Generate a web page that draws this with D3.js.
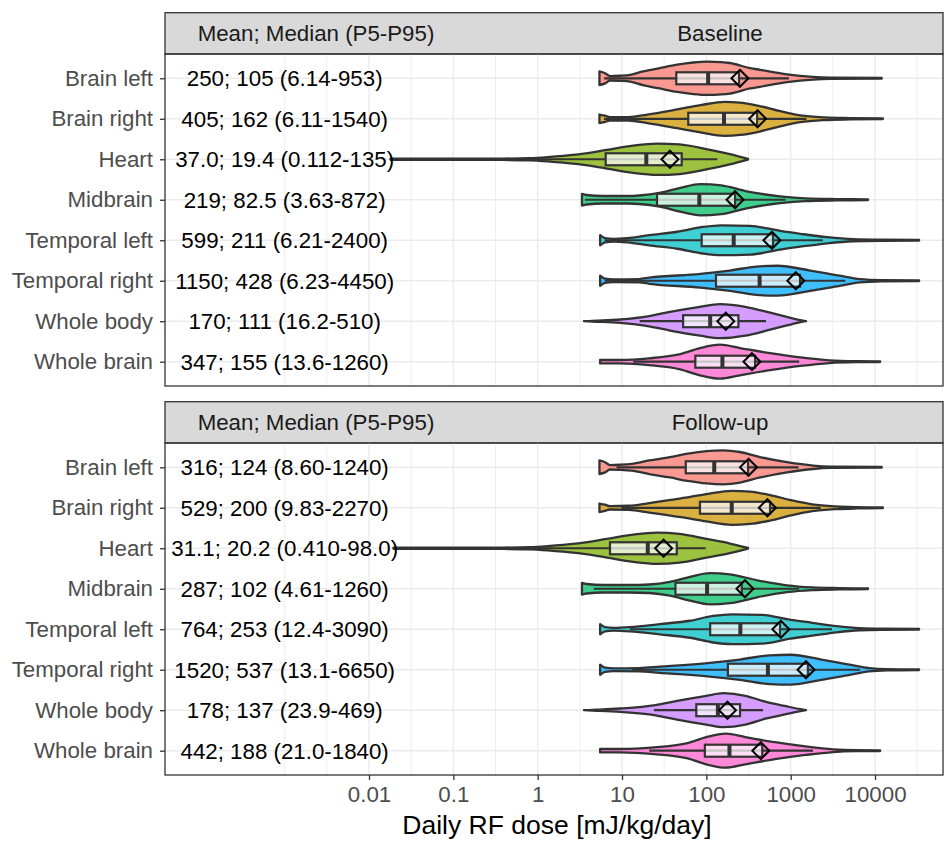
<!DOCTYPE html>
<html>
<head>
<meta charset="utf-8">
<script src="https://cdn.jsdelivr.net/npm/d3@7"></script>
<style>
  body { margin: 0; background: #fff; }
  svg { font-family: "Liberation Sans", Arial, sans-serif; }
</style>
</head>
<body>
<div id="chart"></div>
<script>
// categories
const organs = ["Brain left", "Brain right", "Heart", "Midbrain", "Temporal left", "Temporal right", "Whole body", "Whole brain"];
const phases = ["Baseline", "Follow-up"];
const colors = ["#F8766D", "#CD9600", "#7CAE00", "#00BE67", "#00BFC4", "#00A9FF", "#C77CFF", "#FF61CC"];

// summary values, baseline
const meanBase = [250, 405, 37.0, 219, 599, 1150, 170, 347];
const medianBase = [105, 162, 19.4, 82.5, 211, 428, 111, 155];
const p5Base = [6.14, 6.11, 0.112, 3.63, 6.21, 6.23, 16.2, 13.6];
const p95Base = [953, 1540, 135, 872, 2400, 4450, 510, 1260];
const p25Base = [44, 61, 6.4, 26, 88, 130, 53, 74];
const p75Base = [244, 400, 51, 219, 617, 1290, 240, 378];

// summary values, follow-up
const meanFollow = [316, 529, 31.1, 287, 764, 1520, 178, 442];
const medianFollow = [124, 200, 20.2, 102, 253, 537, 137, 188];
const p5Follow = [8.60, 9.83, 0.410, 4.61, 12.4, 13.1, 23.9, 21.0];
const p95Follow = [1240, 2270, 98.0, 1260, 3090, 6650, 469, 1840];
const p25Follow = [57, 84, 7.2, 43, 111, 180, 76, 96];
const p75Follow = [312, 569, 44.6, 263, 747, 1600, 251, 460];

// violin outlines: [dose, relative half width]
const violinBase = [
  [[5.4,0.4],[6.3,0.3],[7.2,0.13],[9.5,0.15],[12.5,0.2],[17.7,0.4],[28,0.6],[45,0.8],[70,0.93],[102,0.98],[150,0.95],[190,0.9],[330,0.6],[433,0.5],[905,0.23],[1840,0.08],[3000,0.04],[12000,0.02]],
  [[5.4,0.25],[6.3,0.18],[7.2,0.1],[12,0.1],[20,0.25],[45,0.55],[85,0.8],[165,1.0],[250,0.95],[430,0.75],[750,0.45],[1300,0.2],[2500,0.08],[5000,0.04],[12400,0.02]],
  [[0.018,0.03],[0.09,0.03],[0.36,0.04],[0.8,0.06],[1.5,0.15],[3.2,0.3],[6.6,0.55],[13.5,0.8],[26,0.92],[48,0.87],[100,0.6],[190,0.3],[312,0.02]],
  [[3.35,0.35],[3.8,0.28],[6,0.22],[12,0.22],[16,0.25],[28,0.4],[49,0.7],[85,0.92],[150,0.85],[300,0.5],[750,0.2],[1500,0.08],[3500,0.04],[8260,0.02]],
  [[5.5,0.3],[6.3,0.12],[8,0.08],[11.5,0.12],[21,0.3],[45,0.5],[90,0.78],[150,0.88],[330,0.85],[750,0.55],[1300,0.38],[2700,0.18],[5500,0.06],[12000,0.03],[33300,0.02]],
  [[5.5,0.3],[6.3,0.12],[8,0.08],[16,0.1],[21,0.18],[85,0.4],[190,0.6],[430,0.85],[700,0.88],[1700,0.6],[3800,0.3],[6600,0.1],[12000,0.04],[33300,0.02]],
  [[3.54,0.0],[5,0.03],[9.5,0.1],[21,0.3],[37,0.55],[84,0.85],[145,1.0],[290,0.85],[570,0.5],[900,0.25],[1300,0.06],[1520,0.0]],
  [[5.5,0.1],[9.5,0.1],[21,0.2],[49,0.45],[84,0.8],[145,1.0],[250,0.8],[570,0.5],[1300,0.25],[2900,0.08],[6000,0.03],[11500,0.02]]
];
const violinFollow = [
  [[5.4,0.4],[6.3,0.3],[7.2,0.13],[9.5,0.15],[13,0.2],[21,0.4],[37,0.6],[60,0.8],[100,0.95],[160,1.0],[250,0.9],[433,0.6],[905,0.3],[1840,0.1],[3000,0.04],[12000,0.02]],
  [[5.4,0.25],[6.3,0.18],[7.2,0.1],[12,0.12],[21,0.28],[50,0.55],[100,0.8],[200,1.0],[330,0.95],[570,0.75],[1000,0.45],[1800,0.2],[3500,0.08],[6000,0.04],[12400,0.02]],
  [[0.0195,0.03],[0.09,0.03],[0.36,0.04],[0.8,0.06],[1.5,0.15],[3.2,0.3],[6.6,0.55],[13.5,0.8],[26,0.92],[48,0.85],[100,0.55],[190,0.28],[312,0.02]],
  [[3.35,0.35],[3.8,0.28],[6,0.22],[12,0.22],[21,0.25],[37,0.4],[64,0.7],[110,0.92],[190,0.85],[400,0.5],[900,0.2],[1800,0.08],[3800,0.04],[8260,0.02]],
  [[5.5,0.3],[6.3,0.12],[8,0.08],[12.4,0.12],[28,0.3],[64,0.5],[120,0.78],[200,0.88],[450,0.85],[1000,0.55],[1800,0.38],[3500,0.18],[6600,0.06],[12000,0.03],[33300,0.02]],
  [[5.5,0.3],[6.3,0.12],[8,0.08],[16,0.1],[28,0.18],[110,0.4],[250,0.6],[570,0.85],[1000,0.88],[2300,0.6],[5000,0.3],[8500,0.1],[14000,0.04],[33300,0.02]],
  [[3.54,0.0],[5,0.03],[9.5,0.1],[25,0.3],[45,0.55],[100,0.85],[160,1.0],[290,0.85],[500,0.5],[850,0.25],[1300,0.06],[1520,0.0]],
  [[5.5,0.1],[9.5,0.1],[24,0.2],[60,0.45],[100,0.8],[170,1.0],[290,0.8],[650,0.5],[1500,0.25],[3200,0.08],[6000,0.03],[11500,0.02]]
];

const xTicks = [0.01, 0.1, 1, 10, 100, 1000, 10000];
const labelAt = 0.001; // dose where the summary text is centred

const width = 944, height = 841;
const left = 165, right = 943;
const panels = [
  { stripTop: 12.7, top: 54, bottom: 386 },
  { stripTop: 401.7, top: 443, bottom: 775 }
];
const summary = [
  { mean: meanBase, median: medianBase, p5: p5Base, p95: p95Base, p25: p25Base, p75: p75Base, violin: violinBase },
  { mean: meanFollow, median: medianFollow, p5: p5Follow, p95: p95Follow, p25: p25Follow, p75: p75Follow, violin: violinFollow }
];

const svg = d3.select("#chart").append("svg")
  .attr("width", width)
  .attr("height", height);

const x = d3.scaleLog()
  .domain([Math.pow(10, -4.419), Math.pow(10, 4.806)])
  .range([left, right]);

// minor breaks half a decade between majors (ggplot style)
const minorBreaks = [];
for (let k = -3; k <= 4; k++) minorBreaks.push(Math.pow(10, k + 0.5));
minorBreaks.push(0.001);

const fmt = d3.format(".3r");
const halfMax = 17, boxHalf = 6;
const fs = 22.3;

panels.forEach((p, pi) => {
  const s = summary[pi];
  const y = d3.scalePoint().domain(organs).range([p.top, p.bottom]).padding(0.6);

  // strip
  svg.append("rect")
    .attr("x", left).attr("y", p.stripTop)
    .attr("width", right - left).attr("height", p.top - p.stripTop)
    .attr("fill", "#D9D9D9").attr("stroke", "#333").attr("stroke-width", 1.3);
  const stripMid = (p.stripTop + p.top) / 2;
  svg.append("text").attr("x", 316).attr("y", stripMid).attr("dy", "0.36em")
    .attr("text-anchor", "middle").attr("font-size", fs).attr("fill", "#1A1A1A")
    .text("Mean; Median (P5-P95)");
  svg.append("text").attr("x", 720).attr("y", stripMid).attr("dy", "0.36em")
    .attr("text-anchor", "middle").attr("font-size", fs).attr("fill", "#1A1A1A")
    .text(phases[pi]);

  const g = svg.append("g");
  // grid
  g.selectAll(".minor").data(minorBreaks).enter().append("line")
    .attr("x1", d => x(d)).attr("x2", d => x(d))
    .attr("y1", p.top).attr("y2", p.bottom)
    .attr("stroke", "#EBEBEB").attr("stroke-width", 0.8);
  g.selectAll(".hgrid").data(organs).enter().append("line")
    .attr("x1", left).attr("x2", right)
    .attr("y1", d => y(d)).attr("y2", d => y(d))
    .attr("stroke", "#EBEBEB").attr("stroke-width", 1.4);
  g.selectAll(".major").data(xTicks).enter().append("line")
    .attr("x1", d => x(d)).attr("x2", d => x(d))
    .attr("y1", p.top).attr("y2", p.bottom)
    .attr("stroke", "#EBEBEB").attr("stroke-width", 1.4);

  // violins and boxes
  organs.forEach((o, i) => {
    const yc = y(o);
    const area = d3.area()
      .x(d => x(d[0]))
      .y0(d => yc - d[1] * halfMax)
      .y1(d => yc + d[1] * halfMax)
      .curve(d3.curveMonotoneX);
    g.append("path")
      .attr("d", area(s.violin[i]))
      .attr("fill", colors[i]).attr("fill-opacity", 0.75)
      .attr("stroke", "#333").attr("stroke-width", 2.3).attr("stroke-linejoin", "round");

    g.append("line")
      .attr("x1", x(s.p5[i])).attr("x2", x(s.p95[i]))
      .attr("y1", yc).attr("y2", yc)
      .attr("stroke", "#333").attr("stroke-width", 2.2);
    g.append("rect")
      .attr("x", x(s.p25[i])).attr("y", yc - boxHalf)
      .attr("width", x(s.p75[i]) - x(s.p25[i])).attr("height", boxHalf * 2)
      .attr("fill", "#fff").attr("fill-opacity", 0.72)
      .attr("stroke", "#333").attr("stroke-width", 2.2);
    g.append("line")
      .attr("x1", x(s.median[i])).attr("x2", x(s.median[i]))
      .attr("y1", yc - boxHalf).attr("y2", yc + boxHalf)
      .attr("stroke", "#333").attr("stroke-width", 4);
    const mx = x(s.mean[i]), r = 8.5;
    g.append("path")
      .attr("d", `M${mx},${yc - r}L${mx + r},${yc}L${mx},${yc + r}L${mx - r},${yc}Z`)
      .attr("fill", "none").attr("stroke", "#000").attr("stroke-width", 2);

    g.append("text")
      .attr("x", x(labelAt)).attr("y", yc).attr("dy", "0.36em")
      .attr("text-anchor", "middle").attr("font-size", fs).attr("fill", "#000")
      .text(`${fmt(s.mean[i])}; ${fmt(s.median[i])} (${fmt(s.p5[i])}-${fmt(s.p95[i])})`);
  });

  // panel border
  svg.append("rect")
    .attr("x", left).attr("y", p.top)
    .attr("width", right - left).attr("height", p.bottom - p.top)
    .attr("fill", "none").attr("stroke", "#333").attr("stroke-width", 1.3);

  // y axis
  const yAxis = svg.append("g")
    .attr("transform", `translate(${left},0)`)
    .call(d3.axisLeft(y).tickSize(5).tickPadding(7));
  yAxis.select(".domain").remove();
  yAxis.selectAll(".tick line").attr("stroke", "#333").attr("stroke-width", 1.3);
  yAxis.selectAll(".tick text").attr("font-size", fs).attr("fill", "#4D4D4D")
    .attr("font-family", "'Liberation Sans', Arial, sans-serif");

  if (pi === 1) {
    const xAxis = svg.append("g")
      .attr("transform", `translate(0,${p.bottom})`)
      .call(d3.axisBottom(x).tickValues(xTicks).tickFormat(d => d3.format("~f")(d)).tickSize(5).tickPadding(6));
    xAxis.select(".domain").remove();
    xAxis.selectAll(".tick line").attr("stroke", "#333").attr("stroke-width", 1.3);
    xAxis.selectAll(".tick text").attr("font-size", fs).attr("fill", "#4D4D4D")
      .attr("font-family", "'Liberation Sans', Arial, sans-serif");
  }
});

svg.append("text")
  .attr("x", (left + right) / 2 + 3).attr("y", 834)
  .attr("text-anchor", "middle").attr("font-size", 26.5).attr("fill", "#000")
  .text("Daily RF dose [mJ/kg/day]");
</script>
</body>
</html>
